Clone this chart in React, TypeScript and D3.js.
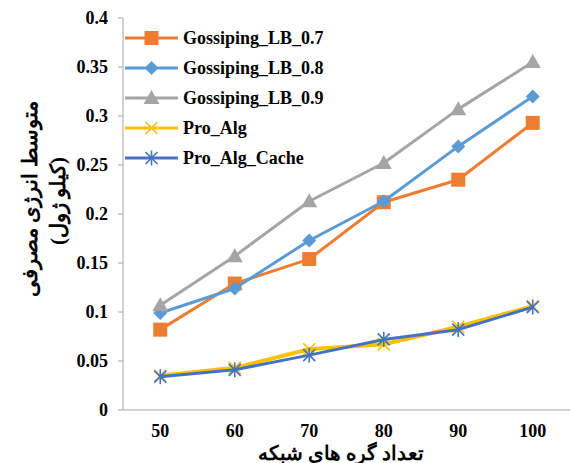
import React from 'react';
import * as d3 from 'd3';

const categories = ['50', '60', '70', '80', '90', '100'];
const lb07 = [0.082, 0.129, 0.154, 0.212, 0.235, 0.293];
const lb08 = [0.099, 0.124, 0.173, 0.213, 0.269, 0.32];
const lb09 = [0.107, 0.157, 0.213, 0.252, 0.307, 0.355];
const proAlg = [0.035, 0.043, 0.062, 0.067, 0.085, 0.106];
const proAlgCache = [0.034, 0.041, 0.056, 0.072, 0.082, 0.105];
const yTicks = [0, 0.05, 0.1, 0.15, 0.2, 0.25, 0.3, 0.35, 0.4];

const series = [
  { name: 'Gossiping_LB_0.7', values: lb07, color: '#ED7D31', marker: 'square' },
  { name: 'Gossiping_LB_0.8', values: lb08, color: '#5B9BD5', marker: 'diamond' },
  { name: 'Gossiping_LB_0.9', values: lb09, color: '#A5A5A5', marker: 'triangle' },
  { name: 'Pro_Alg', values: proAlg, color: '#FFC000', marker: 'x' },
  { name: 'Pro_Alg_Cache', values: proAlgCache, color: '#4472C4', marker: 'star' },
];

const font = '"Times New Roman", "Liberation Serif", "DejaVu Serif", serif';
const axisColor = '#A6A6A6';

function Marker({ type, x, y, color }: { type: string; x: number; y: number; color: string }) {
  if (type === 'square') return <rect x={x - 7} y={y - 7} width={14} height={14} fill={color} />;
  if (type === 'diamond') return <path d={`M${x},${y - 7}L${x + 7},${y}L${x},${y + 7}L${x - 7},${y}Z`} fill={color} />;
  if (type === 'triangle') return <path d={`M${x},${y - 8}L${x + 8},${y + 6}L${x - 8},${y + 6}Z`} fill={color} />;
  const s = 6;
  return (
    <g stroke={color} strokeWidth={1.6}>
      <line x1={x - s} y1={y - s} x2={x + s} y2={y + s} />
      <line x1={x - s} y1={y + s} x2={x + s} y2={y - s} />
      {type === 'star' && <line x1={x} y1={y - s - 1.5} x2={x} y2={y + s + 1.5} />}
    </g>
  );
}

export default function App() {
  const width = 571;
  const height = 463;
  const left = 123;
  const right = 570;
  const top = 18;
  const bottom = 410;

  const x = d3.scaleBand().domain(categories).range([left, right]);
  const y = d3.scaleLinear().domain([0, 0.4]).range([bottom, top]);
  const cx = (c: string) => (x(c) as number) + x.bandwidth() / 2;

  const line = d3
    .line<number>()
    .x((_, i) => cx(categories[i]))
    .y((d) => y(d));

  return (
    <svg width={width} height={height} style={{ position: 'absolute', left: 0, top: 0, background: '#fff' }}>
      {/* axes */}
      <line x1={left} y1={top} x2={left} y2={bottom} stroke={axisColor} strokeWidth={1} />
      <line x1={left} y1={bottom} x2={right} y2={bottom} stroke={axisColor} strokeWidth={1} />
      {yTicks.map((t) => (
        <g key={t}>
          <line x1={left - 5} y1={y(t)} x2={left} y2={y(t)} stroke={axisColor} />
          <text x={108} y={y(t)} dy="0.35em" textAnchor="end" fontFamily={font} fontWeight="bold" fontSize={18} fill="#000">
            {d3.format('')(t)}
          </text>
        </g>
      ))}
      {categories.map((c) => (
        <text key={c} x={cx(c)} y={437} textAnchor="middle" fontFamily={font} fontWeight="bold" fontSize={18} fill="#000">
          {c}
        </text>
      ))}

      {/* series */}
      {series.map((s) => (
        <g key={s.name}>
          <path d={line(s.values) as string} fill="none" stroke={s.color} strokeWidth={s.marker === 'x' ? 4 : 3} strokeLinejoin="round" />
          {s.values.map((v, i) => (
            <Marker key={i} type={s.marker} x={cx(categories[i])} y={y(v)} color={s.color} />
          ))}
        </g>
      ))}

      {/* legend */}
      {series.map((s, i) => {
        const ly = 38 + i * 30;
        return (
          <g key={s.name}>
            <line x1={125} y1={ly} x2={178} y2={ly} stroke={s.color} strokeWidth={3} />
            <Marker type={s.marker} x={151.5} y={ly} color={s.color} />
            <text x={183} y={ly} dy="0.35em" fontFamily={font} fontWeight="bold" fontSize={18} fill="#000">
              {s.name}
            </text>
          </g>
        );
      })}

      {/* axis titles */}
      <text
        transform="translate(30,199) rotate(-90)"
        textAnchor="middle"
        dy="0.35em"
        fontFamily={font}
        fontWeight="bold"
        fontSize={20.5}
        fill="#000"
        direction="rtl"
      >
        متوسط انرژی مصرفی
      </text>
      <text
        transform="translate(58,201) rotate(-90)"
        textAnchor="middle"
        dy="0.35em"
        fontFamily={font}
        fontWeight="bold"
        fontSize={20.5}
        fill="#000"
        direction="rtl"
      >
        (کیلو ژول)
      </text>
      <text x={341} y={460} textAnchor="middle" fontFamily={font} fontWeight="bold" fontSize={19.5} fill="#000" direction="rtl">
        تعداد گره های شبکه
      </text>
    </svg>
  );
}
